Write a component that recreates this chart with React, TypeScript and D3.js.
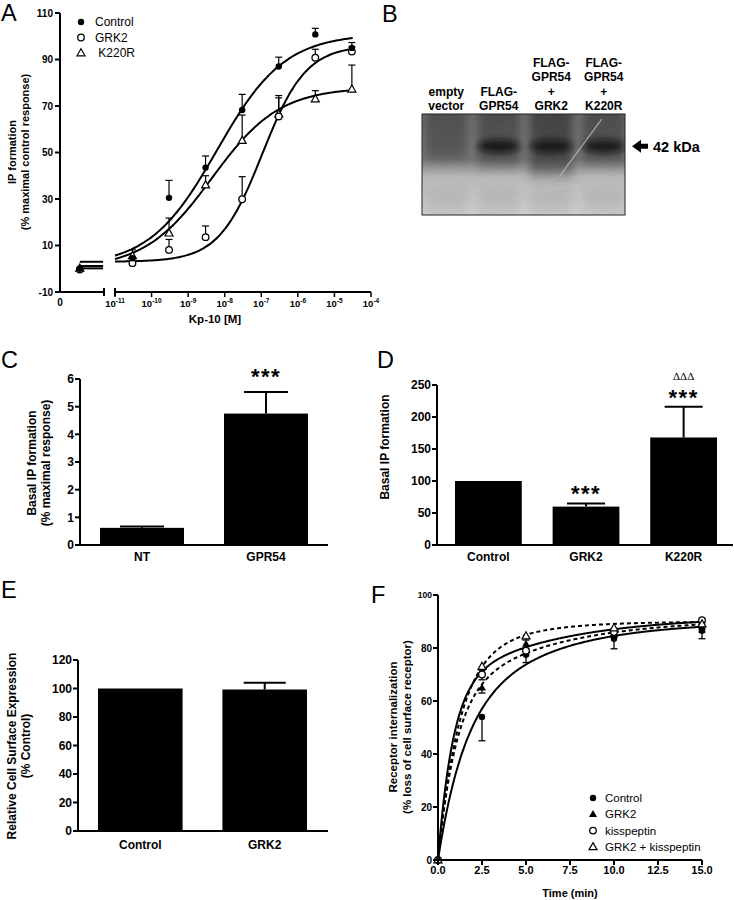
import React from 'react';
import * as d3 from 'd3';

const FONT = "'Liberation Sans', Arial, Helvetica, sans-serif";

// ---------- Panel A data ----------
const doseA = [3e-11, 3e-10, 3e-9, 3e-8, 3e-7, 3e-6, 3e-5];
const seriesA = ['Control', 'GRK2', 'K220R'];
const controlA = [4.5, 30.5, 43.5, 68.3, 87, 100.8, 95];
const controlAErr = [1, 7.5, 5, 6.7, 4, 2.6, 2.3];
const grk2A = [2.4, 8.1, 13.6, 29.9, 65.5, 90.8, 93.4];
const grk2AErr = [0.8, 4.5, 4.8, 9.7, 8, 3.6, 2];
const k220rA = [5.5, 15.3, 36, 55.1, 66.5, 73, 77.2];
const k220rAErr = [2.6, 6.5, 4, 11, 8, 3.6, 10.4];
const basalA = [0, -0.3, 0.2];
const fitBottomA = [1, 3, 0];
const fitTopA = [101, 96, 78];
const fitLogEC50A = [-8.21, -6.97, -8.35];
const fitHillA = [0.47, 0.73, 0.47];
const yTicksA = [-10, 10, 30, 50, 70, 90, 110];
const xDecadesA = [-11, -10, -9, -8, -7, -6, -5, -4];

// ---------- Panel B data ----------
const laneLabels = [
  ['empty', 'vector'],
  ['FLAG-', 'GPR54'],
  ['FLAG-', 'GPR54', '+', 'GRK2'],
  ['FLAG-', 'GPR54', '+', 'K220R'],
];
const bandIntensity = [0, 1, 0.95, 0.95];
const smearDarkness = [0.6, 0.65, 0.8, 0.65];
const smearExtent = [0.52, 0.58, 0.68, 0.56];
const bandPosition = 0.32;
const markerLabel = '42 kDa';

// ---------- Panel C data ----------
const catC = ['NT', 'GPR54'];
const valC = [0.62, 4.75];
const errC = [0.05, 0.78];
const sigC = ['', '***'];
const yTicksC = [0, 1, 2, 3, 4, 5, 6];

// ---------- Panel D data ----------
const catD = ['Control', 'GRK2', 'K220R'];
const valD = [100, 60, 168];
const errD = [0, 5, 48];
const sigD = ['', '***', '***'];
const sig2D = ['', '', 'ΔΔΔ'];
const yTicksD = [0, 50, 100, 150, 200, 250];

// ---------- Panel E data ----------
const catE = ['Control', 'GRK2'];
const valE = [100, 99.3];
const errE = [0, 4.8];
const yTicksE = [0, 20, 40, 60, 80, 100, 120];

// ---------- Panel F data ----------
const timeF = [0, 2.5, 5, 10, 15];
const seriesF = ['Control', 'GRK2', 'kisspeptin', 'GRK2 + kisspeptin'];
const controlF = [0, 54, 77.5, 83.5, 86.5];
const controlFErr = [0, 9, 3, 3.8, 3];
const grk2F = [0, 65, 81.5, 85.5, 88];
const grk2FErr = [0, 2, 2, 1.5, 2];
const kissF = [0, 70, 79, 86, 90.5];
const kissFErr = [0, 2, 1.5, 1.5, 1];
const grk2KissF = [0, 73, 84.5, 87.5, 89];
const grk2KissFErr = [0, 1.5, 1.5, 1, 1];
const fastSpanF = [50, 60, 65, 72];
const kFastF = [0.7, 1.0, 1.2, 0.85];
const slowSpanF = [40, 31, 27, 18];
const kSlowF = [0.2, 0.18, 0.17, 0.3];
const dashedF = [false, true, false, true];
const yTicksF = [0, 20, 40, 60, 80, 100];
const xTicksF = [0, 2.5, 5, 7.5, 10, 12.5, 15];

type MType = 'dot' | 'circle' | 'triangle' | 'ftriangle';

function Marker({ type, x, y }: { type: MType; x: number; y: number }) {
  if (type === 'dot') return <circle cx={x} cy={y} r={3.2} fill="#000" />;
  if (type === 'circle') return <circle cx={x} cy={y} r={3.3} fill="#fff" stroke="#000" strokeWidth={1.3} />;
  const p = `M${x},${y - 4.3}L${x + 4},${y + 2.8}L${x - 4},${y + 2.8}Z`;
  if (type === 'ftriangle') return <path d={p} fill="#000" />;
  return <path d={p} fill="#fff" stroke="#000" strokeWidth={1.2} />;
}

function Letter({ x, y, t }: { x: number; y: number; t: string }) {
  return <text x={x} y={y} fontSize={23.5} fontFamily={FONT}>{t}</text>;
}

function YLabel({ x, y, lines, size }: { x: number; y: number; lines: string[]; size: number }) {
  return (
    <g>
      {lines.map((l, i) => (
        <text key={i} transform={`translate(${x + i * (size + 2)},${y}) rotate(-90)`} textAnchor="middle"
          fontSize={size} fontWeight="bold" fontFamily={FONT}>{l}</text>
      ))}
    </g>
  );
}

function PanelA() {
  const y = d3.scaleLinear().domain([-10, 110]).range([292, 13]);
  const x0 = d3.scaleLinear().domain([0, 1]).range([60, 104]);
  const x = d3.scaleLog().domain([1e-11, 1e-4]).range([115, 371]);
  const vals = [controlA, grk2A, k220rA];
  const errs = [controlAErr, grk2AErr, k220rAErr];
  const mk: MType[] = ['dot', 'circle', 'triangle'];
  const fit = (i: number, lx: number) =>
    fitBottomA[i] + (fitTopA[i] - fitBottomA[i]) / (1 + Math.pow(10, (fitLogEC50A[i] - lx) * fitHillA[i]));
  const grid = d3.range(-11, -4.5 + 1e-6, 0.05);
  const order = [2, 1, 0];
  return (
    <g>
      <Letter x={1} y={21} t="A" />
      {[0, 1, 2].map(i => (
        <g key={i}>
          <path d={d3.line<number>().x(l => x(Math.pow(10, l))).y(l => y(fit(i, l))).curve(d3.curveBasis)(grid) || ''}
            fill="none" stroke="#000" strokeWidth={2} />
          <line x1={x0(0.45)} x2={x0(0.98)} y1={y(fit(i, -14))} y2={y(fit(i, -14))}
            stroke="#000" strokeWidth={2} />
        </g>
      ))}
      {order.map(i => vals[i].map((v, j) => errs[i][j] > 1 ? (
        <g key={`e${i}-${j}`} stroke="#000" strokeWidth={1.2}>
          <line x1={x(doseA[j])} x2={x(doseA[j])} y1={y(v)} y2={y(v + errs[i][j])} />
          <line x1={x(doseA[j]) - 3.5} x2={x(doseA[j]) + 3.5} y1={y(v + errs[i][j])} y2={y(v + errs[i][j])} />
        </g>
      ) : null))}
      {order.map(i => vals[i].map((v, j) => <Marker key={`m${i}-${j}`} type={mk[i]} x={x(doseA[j])} y={y(v)} />))}
      {order.map(i => <Marker key={`b${i}`} type={mk[i]} x={x0(0.45)} y={y(basalA[i])} />)}
      <line x1={60} x2={60} y1={y(110)} y2={y(-10)} stroke="#000" strokeWidth={2} />
      {yTicksA.map(t => (
        <g key={t}>
          <line x1={55} x2={60} y1={y(t)} y2={y(t)} stroke="#000" strokeWidth={2} />
          <text x={53} y={y(t)} dy="0.35em" textAnchor="end" fontSize={10} fontWeight="bold" fontFamily={FONT}>{t}</text>
        </g>
      ))}
      <line x1={x0(0)} x2={x0(1)} y1={292} y2={292} stroke="#000" strokeWidth={2} />
      <line x1={x0(1)} x2={x0(1)} y1={288} y2={296} stroke="#000" strokeWidth={2} />
      <line x1={x.range()[0]} x2={x.range()[1]} y1={292} y2={292} stroke="#000" strokeWidth={2} />
      <line x1={x.range()[0]} x2={x.range()[0]} y1={288} y2={296} stroke="#000" strokeWidth={2} />
      <text x={x0(0)} y={306} textAnchor="middle" fontSize={10} fontWeight="bold" fontFamily={FONT}>0</text>
      {xDecadesA.map(d => (
        <g key={d}>
          <line x1={x(Math.pow(10, d))} x2={x(Math.pow(10, d))} y1={292} y2={297} stroke="#000" strokeWidth={1.5} />
          <text x={x(Math.pow(10, d))} y={307} textAnchor="middle" fontSize={9.5} fontWeight="bold" fontFamily={FONT}>
            10<tspan dy={-4} fontSize={6.5}>{d}</tspan>
          </text>
        </g>
      ))}
      <text x={215} y={323} textAnchor="middle" fontSize={11.5} fontWeight="bold" fontFamily={FONT}>Kp-10 [M]</text>
      <YLabel x={16} y={152} lines={['IP formation', '(% maximal control response)']} size={11} />
      {seriesA.map((s, i) => (
        <g key={s}>
          <Marker type={mk[i]} x={81} y={22 + i * 15.5} />
          <text x={95} y={22 + i * 15.5} dy="0.36em" fontSize={12} fontFamily={FONT}>{i === 2 ? '\u00a0' + s : s}</text>
        </g>
      ))}
    </g>
  );
}

function PanelB() {
  const lane = d3.scaleBand<number>().domain(d3.range(laneLabels.length)).range([420, 630]);
  const yb = d3.scaleLinear().domain([0, 1]).range([114, 215]);
  const left = 422, right = 625;
  const cx = (i: number) => (lane(i) as number) + lane.bandwidth() / 2;
  return (
    <g>
      <Letter x={382} y={22} t="B" />
      <defs>
        <clipPath id="blotClip"><rect x={left} y={yb(0)} width={right - left} height={yb(1) - yb(0)} /></clipPath>
        <filter id="blur5" x="-50%" y="-50%" width="200%" height="200%"><feGaussianBlur stdDeviation={5} /></filter>
        <filter id="blur3" x="-50%" y="-50%" width="200%" height="200%"><feGaussianBlur stdDeviation={3} /></filter>
        <filter id="grain" x="0" y="0" width="100%" height="100%">
          <feTurbulence type="fractalNoise" baseFrequency="0.9" numOctaves={2} seed={3} result="n" />
          <feColorMatrix type="matrix" values="0 0 0 0 0  0 0 0 0 0  0 0 0 0 0  0 0 0 0.9 0" />
        </filter>
        <linearGradient id="bgGrad" x1="0" x2="0" y1="0" y2="1">
          <stop offset="0" stopColor="#7e7e7e" />
          <stop offset="0.45" stopColor="#858585" />
          <stop offset="0.62" stopColor="#c2c2c2" />
          <stop offset="1" stopColor="#dadada" />
        </linearGradient>
        <linearGradient id="laneGrad" x1="0" x2="0" y1="0" y2="1">
          <stop offset="0" stopColor="#000" stopOpacity={1} />
          <stop offset="0.8" stopColor="#000" stopOpacity={0.85} />
          <stop offset="1" stopColor="#000" stopOpacity={0} />
        </linearGradient>
      </defs>
      <g clipPath="url(#blotClip)">
        <rect x={left} y={yb(0)} width={right - left} height={yb(1) - yb(0)} fill="url(#bgGrad)" />
        {laneLabels.map((_, i) => (
          <rect key={`s${i}`} x={cx(i) - 22} y={yb(0) - 10} width={44} height={yb(smearExtent[i]) - yb(0) + 10}
            fill="url(#laneGrad)" opacity={smearDarkness[i] * 0.55} filter="url(#blur5)" />
        ))}
        {laneLabels.map((_, i) => (
          <rect key={`l${i}`} x={cx(i) - 20} y={yb(0.75)} width={40} height={yb(1) - yb(0.75)}
            fill="#000" opacity={0.06} filter="url(#blur5)" />
        ))}
        {bandIntensity.map((b, i) => b > 0 ? (
          <ellipse key={`b${i}`} cx={cx(i)} cy={yb(bandPosition)} rx={21} ry={7}
            fill="#111" opacity={b * 0.8} filter="url(#blur3)" />
        ) : null)}
        <rect x={left} y={yb(0)} width={right - left} height={yb(1) - yb(0)} filter="url(#grain)" opacity={0.12} />
        <line x1={cx(2) + 8} y1={yb(0.62)} x2={cx(3) - 2} y2={yb(0.05)} stroke="#bdbdbd" strokeWidth={1.2} opacity={0.8} />
      </g>
      <rect x={left} y={yb(0)} width={right - left} height={yb(1) - yb(0)} fill="none" stroke="#222" strokeWidth={1} />
      {laneLabels.map((ls, i) => ls.map((l, k) => (
        <text key={`t${i}-${k}`} x={cx(i)} y={110 - (ls.length - 1 - k) * 14.5} textAnchor="middle"
          fontSize={12} fontWeight="bold" fontFamily={FONT}>{l}</text>
      )))}
      <path d={`M${right + 7},${yb(bandPosition)}l9,-6.5v4h7v5h-7v4z`} fill="#000" />
      <text x={653} y={yb(bandPosition)} dy="0.36em" fontSize={14.5} fontWeight="bold" fontFamily={FONT}>{markerLabel}</text>
    </g>
  );
}

function BarPanel({ cats, vals, errs, yDomain, yRange, axisX, axisEnd, bandRange, pad, ticks, capW, labelY, sig, sig2, sigOffset }:
  any) {
  const y = d3.scaleLinear().domain(yDomain).range(yRange);
  const x = d3.scaleBand<string>().domain(cats).range(bandRange).paddingInner(pad);
  const bw = x.bandwidth();
  return (
    <g>
      {cats.map((c: string, i: number) => (
        <g key={c}>
          <rect x={x(c)} y={y(vals[i])} width={bw} height={y(0) - y(vals[i])} fill="#000" />
          {errs[i] > 0 && (
            <g stroke="#000" strokeWidth={2}>
              <line x1={(x(c) as number) + bw / 2} x2={(x(c) as number) + bw / 2} y1={y(vals[i])} y2={y(vals[i] + errs[i])} />
              <line x1={(x(c) as number) + bw / 2 - capW / 2} x2={(x(c) as number) + bw / 2 + capW / 2}
                y1={y(vals[i] + errs[i])} y2={y(vals[i] + errs[i])} />
            </g>
          )}
          <text x={(x(c) as number) + bw / 2} y={labelY} textAnchor="middle" fontSize={12} fontWeight="bold" fontFamily={FONT}>{c}</text>
          {sig && sig[i] && (
            <text x={(x(c) as number) + bw / 2} y={y(vals[i] + errs[i]) - (sigOffset || 2)} textAnchor="middle" fontSize={22}
              fontWeight="bold" letterSpacing={1.5} fontFamily={FONT}>{sig[i]}</text>
          )}
          {sig2 && sig2[i] && (
            <text x={(x(c) as number) + bw / 2} y={y(vals[i] + errs[i]) - 27} textAnchor="middle" fontSize={11}
              fontFamily="'Liberation Serif', 'DejaVu Serif', serif">{sig2[i]}</text>
          )}
        </g>
      ))}
      <line x1={axisX} x2={axisX} y1={y(yDomain[1])} y2={y(0)} stroke="#000" strokeWidth={2} />
      <line x1={axisX} x2={axisEnd} y1={y(0)} y2={y(0)} stroke="#000" strokeWidth={2} />
      {ticks.map((t: number) => (
        <g key={t}>
          <line x1={axisX - 5} x2={axisX} y1={y(t)} y2={y(t)} stroke="#000" strokeWidth={2} />
          <text x={axisX - 6} y={y(t)} dy="0.36em" textAnchor="end" fontSize={12} fontWeight="bold" fontFamily={FONT}>{t}</text>
        </g>
      ))}
    </g>
  );
}

function PanelC() {
  return (
    <g>
      <Letter x={1} y={368} t="C" />
      <BarPanel cats={catC} vals={valC} errs={errC} yDomain={[0, 6]} yRange={[545, 379]} axisX={80} axisEnd={328}
        bandRange={[100, 308]} pad={40 / 124} ticks={yTicksC} capW={44} labelY={561} sig={sigC} sigOffset={8} />
      <YLabel x={36} y={463} lines={['Basal IP formation', '(% maximal response)']} size={12} />
    </g>
  );
}

function PanelD() {
  return (
    <g>
      <Letter x={377} y={368} t="D" />
      <BarPanel cats={catD} vals={valD} errs={errD} yDomain={[0, 250]} yRange={[545, 385]} axisX={437} axisEnd={733}
        bandRange={[455, 717]} pad={0.316} ticks={yTicksD} capW={38} labelY={561} sig={sigD} sig2={sig2D} sigOffset={2} />
      <YLabel x={389} y={447} lines={['Basal IP formation']} size={12} />
    </g>
  );
}

function PanelE() {
  return (
    <g>
      <Letter x={1} y={598} t="E" />
      <BarPanel cats={catE} vals={valE} errs={errE} yDomain={[0, 120]} yRange={[831, 660]} axisX={78} axisEnd={328}
        bandRange={[98, 307]} pad={0.32} ticks={yTicksE} capW={42} labelY={849} />
      <YLabel x={16} y={746} lines={['Relative Cell Surface Expression', '(% Control)']} size={12} />
    </g>
  );
}

function PanelF() {
  const y = d3.scaleLinear().domain([0, 100]).range([860, 595]);
  const x = d3.scaleLinear().domain([0, 15]).range([438, 702]);
  const vals = [controlF, grk2F, kissF, grk2KissF];
  const errs = [controlFErr, grk2FErr, kissFErr, grk2KissFErr];
  const mk: MType[] = ['dot', 'ftriangle', 'circle', 'triangle'];
  const grid = d3.range(0, 15.0001, 0.05);
  const fit = (i: number, t: number) =>
    fastSpanF[i] * (1 - Math.exp(-kFastF[i] * t)) + slowSpanF[i] * (1 - Math.exp(-kSlowF[i] * t));
  const order = [0, 1, 2, 3];
  return (
    <g>
      <Letter x={371} y={603} t="F" />
      {order.map(i => (
        <path key={`c${i}`} d={d3.line<number>().x(t => x(t)).y(t => y(fit(i, t)))(grid) || ''} fill="none" stroke="#000"
          strokeWidth={2} strokeDasharray={dashedF[i] ? '4,3' : undefined} />
      ))}
      {order.map(i => vals[i].map((v, j) => errs[i][j] > 0 ? (
        <g key={`e${i}-${j}`} stroke="#000" strokeWidth={1.3}>
          <line x1={x(timeF[j])} x2={x(timeF[j])} y1={y(v)} y2={y(v - errs[i][j])} />
          <line x1={x(timeF[j]) - 3.5} x2={x(timeF[j]) + 3.5} y1={y(v - errs[i][j])} y2={y(v - errs[i][j])} />
        </g>
      ) : null))}
      {order.map(i => vals[i].map((v, j) => <Marker key={`m${i}-${j}`} type={mk[i]} x={x(timeF[j])} y={y(v)} />))}
      <line x1={x(0)} x2={x(0)} y1={y(100)} y2={y(0)} stroke="#000" strokeWidth={2} />
      <line x1={x(0)} x2={x(15)} y1={y(0)} y2={y(0)} stroke="#000" strokeWidth={2} />
      {yTicksF.map(t => (
        <g key={t}>
          <line x1={x(0) - 5} x2={x(0)} y1={y(t)} y2={y(t)} stroke="#000" strokeWidth={2} />
          <text x={x(0) - 6} y={y(t)} dy="0.36em" textAnchor="end" fontSize={t === 100 ? 8.5 : 10} fontWeight="bold" fontFamily={FONT}>{t}</text>
        </g>
      ))}
      {xTicksF.map(t => (
        <g key={t}>
          <line x1={x(t)} x2={x(t)} y1={y(0)} y2={y(0) + 5} stroke="#000" strokeWidth={2} />
          <text x={x(t)} y={874} textAnchor="middle" fontSize={11} fontWeight="bold" fontFamily={FONT}>{t.toFixed(1)}</text>
        </g>
      ))}
      <text x={570} y={897} textAnchor="middle" fontSize={11} fontWeight="bold" fontFamily={FONT}>Time (min)</text>
      <YLabel x={397} y={727} lines={['Receptor internalization', '(% loss of cell surface receptor)']} size={11.5} />
      {seriesF.map((s, i) => (
        <g key={s}>
          <Marker type={mk[i]} x={593} y={798 + i * 16.3} />
          <text x={605} y={798 + i * 16.3} dy="0.36em" fontSize={11.5} fontFamily={FONT}>{s}</text>
        </g>
      ))}
    </g>
  );
}

export default function App() {
  return (
    <svg width={734} height={900} style={{ position: 'absolute', left: 0, top: 0, background: '#fff' }}>
      <rect width={734} height={900} fill="#fff" />
      <PanelA />
      <PanelB />
      <PanelC />
      <PanelD />
      <PanelE />
      <PanelF />
    </svg>
  );
}
